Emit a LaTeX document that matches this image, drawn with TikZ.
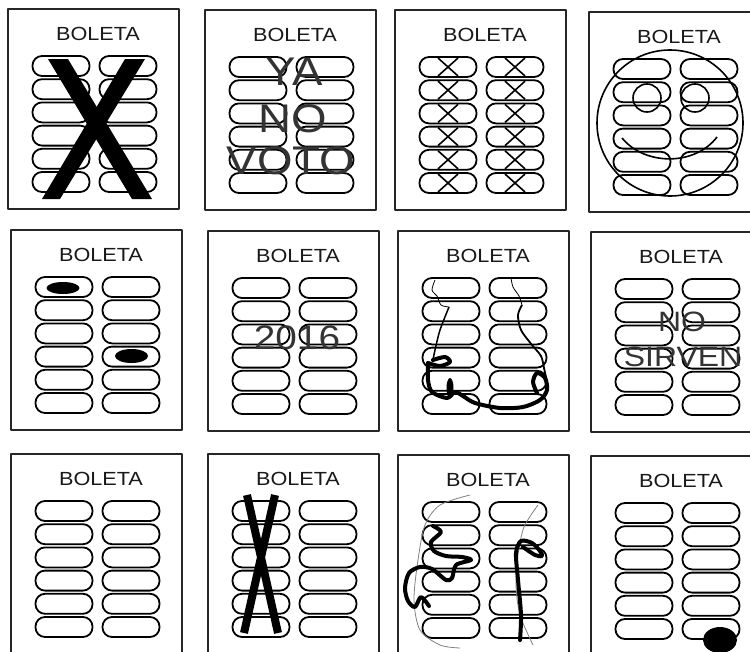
\documentclass[tikz,border=0pt]{standalone}
\usepackage{fontspec}
\setmainfont{Liberation Sans}
\newcommand\ancho[1]{\scalebox{1.14}[1]{#1}}
\begin{document}
\begin{tikzpicture}[x=1pt,y=-1pt,line join=round,
	hoja/.style={draw=black!85,line width=1.3pt},
	casilla/.style={draw=black,line width=1.8pt,rounded corners=9.5pt},
	titulo/.style={font=\fontsize{19}{19}\selectfont,text=black!90},
	letrero/.style={text=black!80,inner sep=0pt},
	raya/.style={line width=1.6pt},
	tachon/.style={line width=4pt,line cap=round}]
	\def\boleta#1#2#3{% izquierda, arriba, nombre
		\draw[hoja] (#1,#2) rectangle ++(171,200);
		\node[titulo] (#3) at ({#1+90},{#2+25}) {\ancho{BOLETA}};
		\foreach \i in {0,...,5}{
			\draw[casilla] ({#1+24.5},{#2+47+23.2*\i}) rectangle ++(57,20);
			\draw[casilla] ({#1+91.5},{#2+47+23.2*\i}) rectangle ++(57,20);
		}}
	\fill[white] (0,0) rectangle (750,651);
	\useasboundingbox (0,0) rectangle (750,651);
	\clip (0,0) rectangle (750,651);
	% fila 1
	\boleta{8}{9}{b1} \boleta{205}{10}{b2} \boleta{395}{10}{b3} \boleta{589}{12}{b4}
	% fila 2
	\boleta{11}{230}{b5} \boleta{208}{231}{b6} \boleta{398}{231}{b7} \boleta{591}{232}{b8}
	% fila 3
	\boleta{11}{454}{b9} \boleta{208}{454}{b10} \boleta{398}{455}{b11} \boleta{591}{456}{b12}
	% gran X
	\fill (48,59) -- (68,59) -- (152,199) -- (132,199) -- cycle;
	\fill (125,59) -- (145,59) -- (60,199) -- (42,199) -- cycle;
	% YA NO VOTO
	\node[letrero,font=\fontsize{40}{40}\selectfont] (ya) at (294,72) {\ancho{YA}};
	\node[letrero,font=\fontsize{40}{40}\selectfont] (no) at (293,119) {\ancho{NO}};
	\node[letrero,font=\fontsize{40}{40}\selectfont] (voto) at (291,161) {\ancho{VOTO}};
	% una X en cada casilla
	\foreach \i in {0,...,5}{
		\draw[raya] ({438},{58+23.2*\i}) -- ++(20,18) ({458},{58+23.2*\i}) -- ++(-20,18);
		\draw[raya] ({505},{58+23.2*\i}) -- ++(20,18) ({525},{58+23.2*\i}) -- ++(-20,18);
	}
	% carita
	\draw[raya] (670,123) circle (73);
	\draw[raya] (647,98) circle (14) (695,98) circle (14);
	\draw[raya] (622,138) .. controls (645,166) and (695,166) .. (717,137);
	% dos votos
	\fill (63,288) ellipse [x radius=16.5, y radius=6];
	\fill (131.5,356) ellipse [x radius=16.5, y radius=7];
	% 2016
	\node[letrero,font=\fontsize{34}{34}\selectfont] (anio) at (297,338) {\ancho{2016}};
	% garabato
	\draw[line width=0.8pt] plot[smooth] coordinates {(435,280) (432,290) (437,296) (441,305) (449,307)};
	\draw[line width=1.5pt] plot[smooth] coordinates {(449,307) (440,330) (435,350) (433,360)};
	\draw[tachon] plot[smooth] coordinates {(433,360) (445,357) (450,362) (440,366) (428,363)};
	\draw[tachon] plot[smooth] coordinates {(428,363) (428,380) (432,392) (447,398) (455,392) (463,396) (475,403) (500,408) (523,407) (540,400) (547,390) (545,378) (537,373) (533,382) (537,393)};
	\fill (450,388) ellipse [x radius=3.5, y radius=10];
	\draw[line width=0.8pt] plot[smooth] coordinates {(511,278) (513,287) (519,296) (522,305)};
	\draw[line width=1.8pt] plot[smooth] coordinates {(522,305) (518,315) (521,330) (532,345) (541,356) (544,368) (547,382)};
	% NO SIRVEN
	\node[letrero,font=\fontsize{28}{28}\selectfont] (no2) at (682,322) {\ancho{NO}};
	\node[letrero,font=\fontsize{28}{28}\selectfont] (sirven) at (683,357) {\ancho{SIRVEN}};
	% X en la columna izquierda
	\draw[line width=8pt] (247,495) -- (278,633) (275,495) -- (244,633);
	% garabato 2
	\draw[gray,line width=0.8pt] plot[smooth] coordinates {(470,495) (440,505) (425,525) (418,560) (414,600) (420,630) (440,645) (460,648)};
	\draw[gray,line width=0.8pt] plot[smooth] coordinates {(538,505) (524,527) (518,555) (516,585) (520,615) (533,645)};
	\draw[tachon] plot[smooth] coordinates {(433,526) (441,532) (431,542) (434,551) (446,556) (462,557) (471,560) (456,565) (452,578) (446,580) (432,569) (420,567) (409,573) (405,588) (408,601) (415,607) (421,597) (429,606)};
	\draw[tachon] plot[smooth] coordinates {(520,640) (521,615) (518,580) (516,553) (521,541) (532,543) (540,551) (542,556) (535,555) (523,547)};
	% voto fuera
	\fill (720,640) ellipse [x radius=17, y radius=13];
\end{tikzpicture}
\end{document}
